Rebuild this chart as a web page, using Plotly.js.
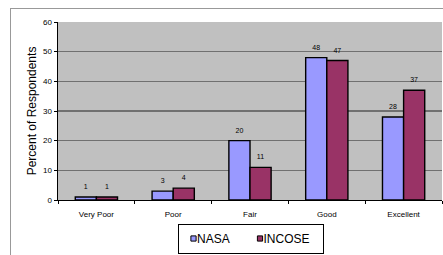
<!DOCTYPE html>
<html>
<head>
<meta charset="utf-8">
<script src="https://cdn.plot.ly/plotly-3.0.1.min.js"></script>
<style>
html,body{margin:0;padding:0;background:#fff;overflow:hidden;}
#frame{position:absolute;left:10px;top:8px;width:500px;height:300px;border:1px solid #999;box-sizing:border-box;}
#chart{position:absolute;left:0;top:0;width:443px;height:255px;}
</style>
</head>
<body>
<div id="frame"></div>
<div id="chart"></div>
<script>
const categories = ["Very Poor", "Poor", "Fair", "Good", "Excellent"];
const nasa = [1, 3, 20, 48, 28];
const incose = [1, 4, 11, 47, 37];
const yTicks = [0, 10, 20, 30, 40, 50, 60];

const common = {
  type: 'bar',
  x: categories,
  textposition: 'outside',
  cliponaxis: false,
  textfont: {family: 'Liberation Sans, Arial, sans-serif', size: 7, color: '#000'},
  hoverinfo: 'none'
};
const traces = [
  Object.assign({}, common, {name: 'NASA', y: nasa, text: nasa.map(String),
    marker: {color: '#9999ff', line: {color: '#000', width: 1.4}}}),
  Object.assign({}, common, {name: 'INCOSE', y: incose, text: incose.map(String),
    marker: {color: '#993366', line: {color: '#000', width: 1.4}}})
];
const layout = {
  width: 443, height: 255,
  margin: {l: 58, r: 1, t: 22, b: 54, pad: 0},
  paper_bgcolor: 'rgba(0,0,0,0)',
  plot_bgcolor: '#c0c0c0',
  barmode: 'group',
  bargap: 0.45,
  bargroupgap: 0,
  font: {family: 'Liberation Sans, Arial, sans-serif', size: 8, color: '#000'},
  showlegend: true,
  legend: {
    orientation: 'h', x: 0.5, xanchor: 'center', y: -0.128, yanchor: 'top',
    bordercolor: '#000', borderwidth: 1, bgcolor: '#fff',
    font: {size: 12, color: '#000'},
    itemwidth: 30, traceorder: 'normal'
  },
  xaxis: {
    tickvals: categories,
    ticks: 'outside', tickson: 'boundaries', ticklen: 3, tickcolor: '#000',
    ticklabelstandoff: 6,
    showline: true, linecolor: '#000', linewidth: 1,
    showgrid: false,
    tickfont: {size: 8},
    fixedrange: true
  },
  yaxis: {
    range: [0, 60],
    tickvals: yTicks,
    ticks: 'outside', ticklen: 3, tickcolor: '#000',
    showline: true, linecolor: '#000', linewidth: 1.5,
    showgrid: true, gridcolor: '#707070', gridwidth: 1.6,
    zeroline: false,
    tickfont: {size: 8},
    title: {text: 'Percent of Respondents', font: {size: 12}, standoff: 4},
    fixedrange: true
  }
};
Plotly.newPlot('chart', traces, layout, {staticPlot: true, displayModeBar: false}).then(function(gd){
  try {
    gd.querySelectorAll('.barlayer .bartext').forEach(function(t){
      const tr = t.getAttribute('transform') || '';
      t.setAttribute('transform', 'translate(0,-4) ' + tr);
    });
    const leg = gd.querySelector('.legend');
    if (leg) {
      leg.setAttribute('transform', 'translate(178,224)');
      const bg = leg.querySelector('rect.bg');
      if (bg) { bg.setAttribute('width', 145); bg.setAttribute('height', 29); }
      const items = leg.querySelectorAll('g.traces');
      const gx = [-4.5, 62];
      items.forEach(function(it, i){
        it.setAttribute('transform', 'translate(' + gx[i] + ',14.5)');
        it.querySelectorAll('.legendpoints path').forEach(function(p){
          p.setAttribute('d', 'M2.6,2.6H-2.6V-2.6H2.6Z');
          p.style.strokeWidth = '1px';
        });
        const txt = it.querySelector('text.legendtext');
        if (txt) {
          txt.setAttribute('x', 23.5);
          txt.querySelectorAll('tspan').forEach(function(s){ if (s.getAttribute('x') !== null) s.setAttribute('x', 23.5); });
        }
      });
    }
  } catch (e) {}
});
</script>
</body>
</html>
